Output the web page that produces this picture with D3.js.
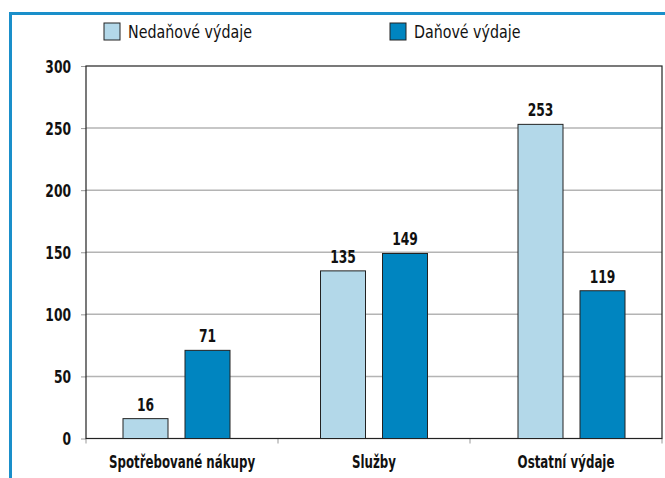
<!DOCTYPE html>
<html>
<head>
<meta charset="utf-8">
<script src="https://cdn.jsdelivr.net/npm/d3@7"></script>
<style>
  html, body { margin: 0; padding: 0; background: #fff; }
  svg { display: block; }
  text { font-family: "DejaVu Sans Condensed", "Liberation Sans Narrow", sans-serif; fill: #111; }
</style>
</head>
<body>
<div id="chart"></div>
<script>
// data
const categories = ['Spotřebované nákupy', 'Služby', 'Ostatní výdaje'];
const seriesNames = ['Nedaňové výdaje', 'Daňové výdaje'];
const nedanove = [16, 135, 253];
const danove = [71, 149, 119];
const yTicks = [0, 50, 100, 150, 200, 250, 300];

const colors = ['#b3d8e9', '#0085c0'];

// horizontal squeeze to imitate the condensed face of the original
const SQ_BOLD = 0.76, SQ_CAT = 0.73, SQ_REG = 0.88;

function drawChart() {
  const W = 665, H = 478;
  const margin = { left: 86, right: 3, top: 66, bottom: 39.5 };
  const innerW = W - margin.left - margin.right;
  const innerH = H - margin.top - margin.bottom;

  const svg = d3.select('#chart').append('svg')
    .attr('width', W).attr('height', H);

  // blue frame (top + left)
  svg.append('rect').attr('x', 9).attr('y', 12).attr('width', W - 9).attr('height', 3).attr('fill', '#1a8fca');
  svg.append('rect').attr('x', 9).attr('y', 12).attr('width', 3).attr('height', H - 12).attr('fill', '#1a8fca');

  const g = svg.append('g').attr('transform', `translate(${margin.left},${margin.top})`);

  const x = d3.scaleBand().domain(categories).range([0, innerW]);
  // left edge of each bar group (groups are not exactly centred in the original)
  const x0 = d3.scalePoint().domain(categories).range([37, 432]);
  const y = d3.scaleLinear().domain([0, 300]).range([innerH, 0]);

  const barW = 45, gap = 17;
  const x1 = d3.scaleOrdinal().domain([0, 1]).range([0, barW + gap]);

  // gridlines
  g.append('g').selectAll('line')
    .data(yTicks.filter(d => d > 0 && d < 300)).enter()
    .append('line')
      .attr('x1', 0).attr('x2', innerW)
      .attr('y1', d => y(d)).attr('y2', d => y(d))
      .attr('stroke', '#b4b4b4').attr('stroke-width', 1.5);

  // y axis
  const yAxis = g.append('g')
    .call(d3.axisLeft(y).tickValues(yTicks).tickSize(5).tickPadding(10));
  yAxis.select('.domain').remove();
  yAxis.selectAll('.tick line').attr('stroke', '#999');
  yAxis.selectAll('.tick text')
    .attr('font-size', '18px').attr('font-weight', 'bold')
    .attr('font-family', '"DejaVu Sans Condensed", sans-serif')
    .attr('fill', '#111')
    .attr('x', -15 / SQ_BOLD)
    .attr('dy', '0.36em')
    .attr('transform', `scale(${SQ_BOLD},1)`);

  // category boundary ticks on the x axis
  const bounds = [0].concat(categories.map(c => x(c) + x.bandwidth()));
  g.append('g').selectAll('line')
    .data(bounds).enter()
    .append('line')
      .attr('x1', d => d).attr('x2', d => d)
      .attr('y1', innerH).attr('y2', innerH + 5)
      .attr('stroke', '#999');

  // plot border
  g.append('rect')
    .attr('x', 0).attr('y', 0).attr('width', innerW).attr('height', innerH)
    .attr('fill', 'none').attr('stroke', '#222').attr('stroke-width', 1.2);

  // bars
  const series = [nedanove, danove];
  series.forEach((vals, si) => {
    const sg = g.append('g');
    sg.selectAll('rect')
      .data(vals).enter()
      .append('rect')
        .attr('x', (d, i) => x0(categories[i]) + x1(si))
        .attr('y', d => y(d))
        .attr('width', barW)
        .attr('height', d => innerH - y(d))
        .attr('fill', colors[si])
        .attr('stroke', '#222').attr('stroke-width', 1);
    sg.selectAll('text')
      .data(vals).enter()
      .append('text')
        .attr('transform', (d, i) =>
          `translate(${x0(categories[i]) + x1(si) + barW / 2},${y(d) - 8}) scale(${SQ_BOLD},1)`)
        .attr('text-anchor', 'middle')
        .attr('font-size', '18px').attr('font-weight', 'bold')
        .text(d => d);
  });

  // category labels
  g.append('g').selectAll('text')
    .data(categories).enter()
    .append('text')
      .attr('transform', d => `translate(${x(d) + x.bandwidth() / 2},${innerH + 29}) scale(${SQ_CAT},1)`)
      .attr('text-anchor', 'middle')
      .attr('font-size', '18px').attr('font-weight', 'bold')
      .text(d => d);

  // legend
  const legendX = [104, 390];
  const lg = svg.append('g');
  seriesNames.forEach((name, i) => {
    lg.append('rect')
      .attr('x', legendX[i]).attr('y', 23)
      .attr('width', 16).attr('height', 17)
      .attr('fill', colors[i]).attr('stroke', '#222').attr('stroke-width', 1);
    lg.append('text')
      .attr('transform', `translate(${legendX[i] + 24},38) scale(${SQ_REG},1)`)
      .attr('font-size', '18px')
      .text(name);
  });
}

drawChart();
</script>
</body>
</html>
